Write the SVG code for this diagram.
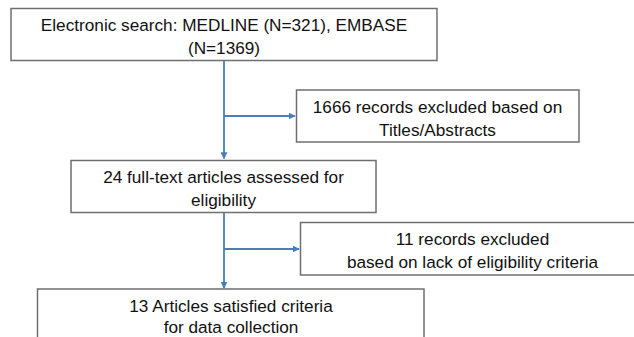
<svg xmlns="http://www.w3.org/2000/svg" width="634" height="337" viewBox="0 0 634 337">
<defs>
<style>
.box{fill:#ffffff;stroke:#6f6f6f;stroke-width:1.5}
.t{font-family:"Liberation Sans",Arial,sans-serif;font-size:17.2px;fill:#111111;text-anchor:middle}
.c{fill:none;stroke:#4a7ebb;stroke-width:1.8}
</style>
<marker id="ah" viewBox="0 0 10 10" refX="9" refY="5" markerWidth="7" markerHeight="7" markerUnits="userSpaceOnUse" orient="auto">
<path d="M0,0 L10,5 L0,10 Z" fill="#4a7ebb"/>
</marker>
</defs>
<rect width="634" height="337" fill="#ffffff"/>
<g id="connectors">
<path class="c" d="M224,61 V158.5" marker-end="url(#ah)"/>
<path class="c" d="M224,116 H295" marker-end="url(#ah)"/>
<path class="c" d="M224,213 V288" marker-end="url(#ah)"/>
<path class="c" d="M224,249 H299" marker-end="url(#ah)"/>
</g>
<g id="node-search">
<rect class="box" x="11" y="8.5" width="426" height="52"/>
<text class="t" x="224" y="31">Electronic search: MEDLINE (N=321), EMBASE</text>
<text class="t" x="224" y="54">(N=1369)</text>
</g>
<g id="node-excluded1">
<rect class="box" x="296.5" y="90" width="282.5" height="52"/>
<text class="t" x="437.5" y="113">1666 records excluded based on</text>
<text class="t" x="437.5" y="136">Titles/Abstracts</text>
</g>
<g id="node-fulltext">
<rect class="box" x="71" y="160.5" width="305" height="52"/>
<text class="t" x="223.5" y="183">24 full-text articles assessed for</text>
<text class="t" x="223.5" y="206">eligibility</text>
</g>
<g id="node-excluded2">
<rect class="box" x="300.5" y="222.5" width="345" height="52.5"/>
<text class="t" x="472.5" y="245">11 records excluded</text>
<text class="t" x="472.5" y="268">based on lack of eligibility criteria</text>
</g>
<g id="node-included">
<rect class="box" x="37.5" y="289" width="386.5" height="60"/>
<text class="t" x="231" y="312">13 Articles satisfied criteria</text>
<text class="t" x="231" y="332.5">for data collection</text>
</g>
</svg>
